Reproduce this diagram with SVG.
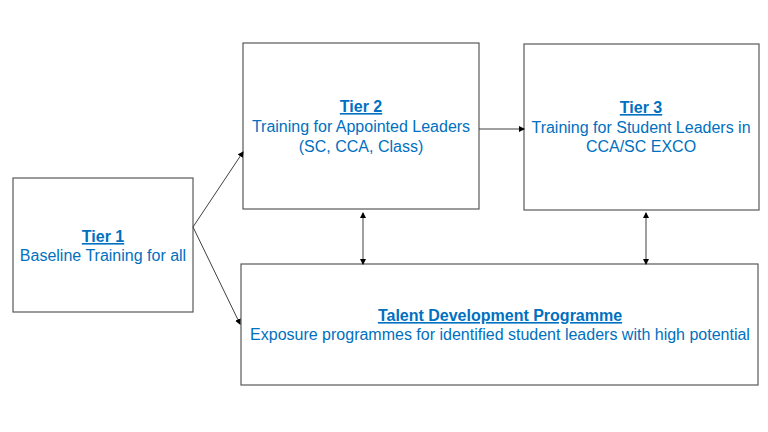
<svg xmlns="http://www.w3.org/2000/svg" width="768" height="432" viewBox="0 0 768 432">
<defs>
<style>
.box{fill:#fff;stroke:#595959;stroke-width:1.2}
.t{font-family:"Liberation Sans",Arial,sans-serif;font-size:16px;fill:#0070C0;text-anchor:middle}
.b{font-weight:bold;text-decoration:underline}
.c{stroke:#404040;stroke-width:1;fill:none}
</style>
<marker id="ah" markerWidth="6" markerHeight="6" refX="5" refY="3" orient="auto-start-reverse" markerUnits="userSpaceOnUse">
<path d="M0,0 L6,3 L0,6 Z" fill="#000"/>
</marker>
</defs>
<rect width="768" height="432" fill="#fff"/>
<g id="tier1">
<rect class="box" x="13" y="178" width="180" height="134"/>
<text class="t b" x="103" y="242">Tier 1</text>
<text class="t" x="103" y="261">Baseline Training for all</text>
</g>
<g id="tier2">
<rect class="box" x="243" y="43" width="236" height="166"/>
<text class="t b" x="361" y="112">Tier 2</text>
<text class="t" x="361" y="132">Training for Appointed Leaders</text>
<text class="t" x="361" y="152">(SC, CCA, Class)</text>
</g>
<g id="tier3">
<rect class="box" x="524" y="44" width="235" height="166"/>
<text class="t b" x="641" y="113">Tier 3</text>
<text class="t" x="641" y="133">Training for Student Leaders in</text>
<text class="t" x="641" y="152">CCA/SC EXCO</text>
</g>
<g id="tdp">
<rect class="box" x="241" y="264" width="517" height="121"/>
<text class="t b" x="500" y="321">Talent Development Programme</text>
<text class="t" x="500" y="340">Exposure programmes for identified student leaders with high potential</text>
</g>
<g id="connectors">
<line class="c" x1="193" y1="227" x2="243" y2="152" marker-end="url(#ah)"/>
<line class="c" x1="193" y1="227" x2="240" y2="324" marker-end="url(#ah)"/>
<line class="c" x1="479" y1="129" x2="524" y2="129" marker-end="url(#ah)"/>
<line class="c" x1="363" y1="213" x2="363" y2="264" marker-start="url(#ah)" marker-end="url(#ah)"/>
<line class="c" x1="646" y1="213" x2="646" y2="264" marker-start="url(#ah)" marker-end="url(#ah)"/>
</g>
</svg>
